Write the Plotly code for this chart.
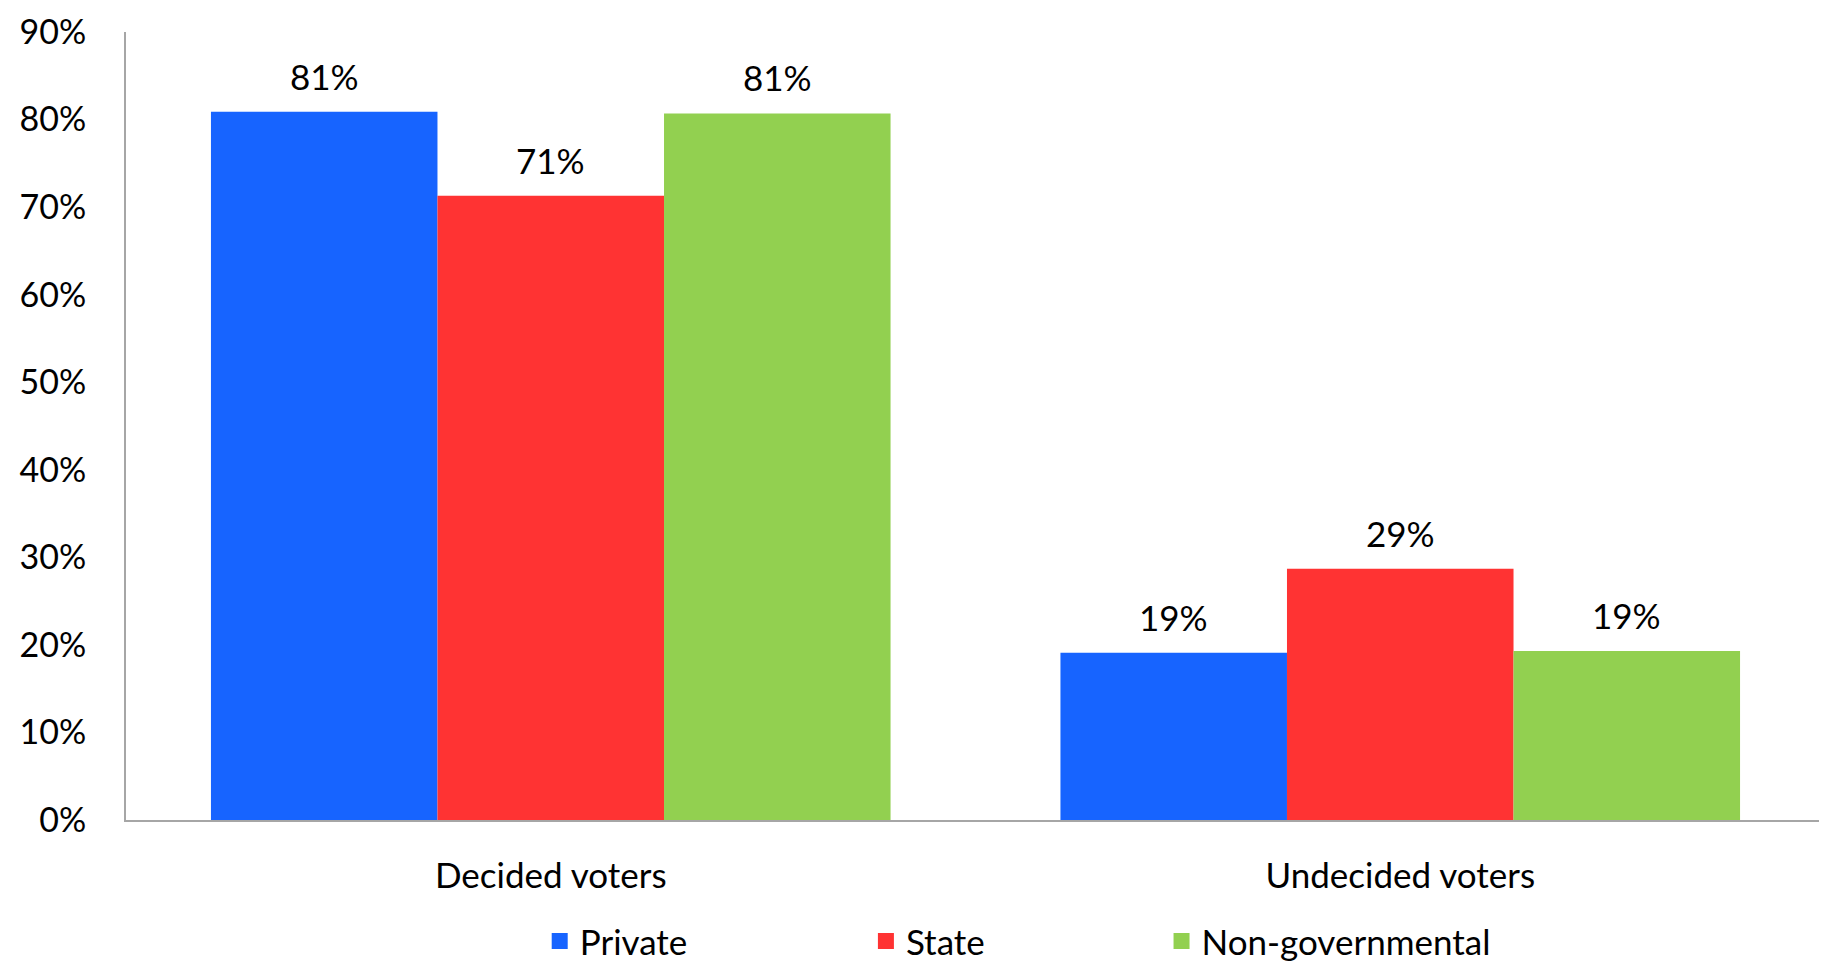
import plotly.graph_objects as go

categories = ['Decided voters', 'Undecided voters']
private = [80.9, 19.1]
state = [71.3, 28.7]
non_gov = [80.7, 19.3]

series = [
    ('Private', private, '#1764ff'),
    ('State', state, '#ff3333'),
    ('Non-governmental', non_gov, '#92d050'),
]

FONT = 'Lato'
BARGAP = 0.2

# each series gets its own legend box so entries can be spaced like the original
legend_ids = ['legend', 'legend2', 'legend3']
legend_x = [0.2435, 0.4355, 0.6095]

fig = go.Figure()
for (name, vals, color), lid in zip(series, legend_ids):
    fig.add_trace(go.Bar(x=categories, y=vals, name=name, showlegend=False,
                         marker=dict(color=color, line=dict(width=0))))
    # legend-only entry with a larger square swatch
    fig.add_trace(go.Scatter(x=[None], y=[None], mode='markers', name=name,
                             legend=lid, showlegend=True,
                             marker=dict(symbol='square', size=22, color=color)))

# value labels above the bars, placed on the grouped offsets
w = (1 - BARGAP) / len(series)
for k, (name, vals, color) in enumerate(series):
    for i, v in enumerate(vals):
        fig.add_annotation(x=i + (k - (len(series) - 1) / 2) * w, y=v,
                           text='{:.0f}%'.format(v), showarrow=False,
                           yanchor='bottom', yshift=13,
                           font=dict(family=FONT, size=35, color='black'))

legend_style = dict(orientation='h', xanchor='left', yref='container', y=0.031,
                    yanchor='middle', font=dict(size=35), itemwidth=30,
                    itemsizing='trace', bgcolor='rgba(0,0,0,0)')

# the page body adds an 8px offset, margins account for it
fig.update_layout(
    width=1827, height=963,
    margin=dict(l=118, r=10, t=24, b=151),
    showlegend=True,
    plot_bgcolor='white', paper_bgcolor='white',
    barmode='group', bargap=BARGAP, bargroupgap=0,
    font=dict(family=FONT, size=35, color='black'),
    legend=dict(x=legend_x[0], **legend_style),
    legend2=dict(x=legend_x[1], **legend_style),
    legend3=dict(x=legend_x[2], **legend_style),
)
fig.update_yaxes(range=[0, 90], dtick=10, ticksuffix='%', showgrid=False,
                 showline=True, linecolor='#a6a6a6', linewidth=2,
                 ticks='', ticklabelstandoff=31, ticklabeloverflow='allow',
                 tickfont=dict(size=34),
                 zeroline=False, automargin=False)
fig.update_xaxes(type='category', categoryarray=categories, range=[-0.5, 1.5],
                 showline=True, linecolor='#a6a6a6', linewidth=2,
                 ticks='', ticklabelstandoff=24, automargin=False)

fig.write_html("out.html")
